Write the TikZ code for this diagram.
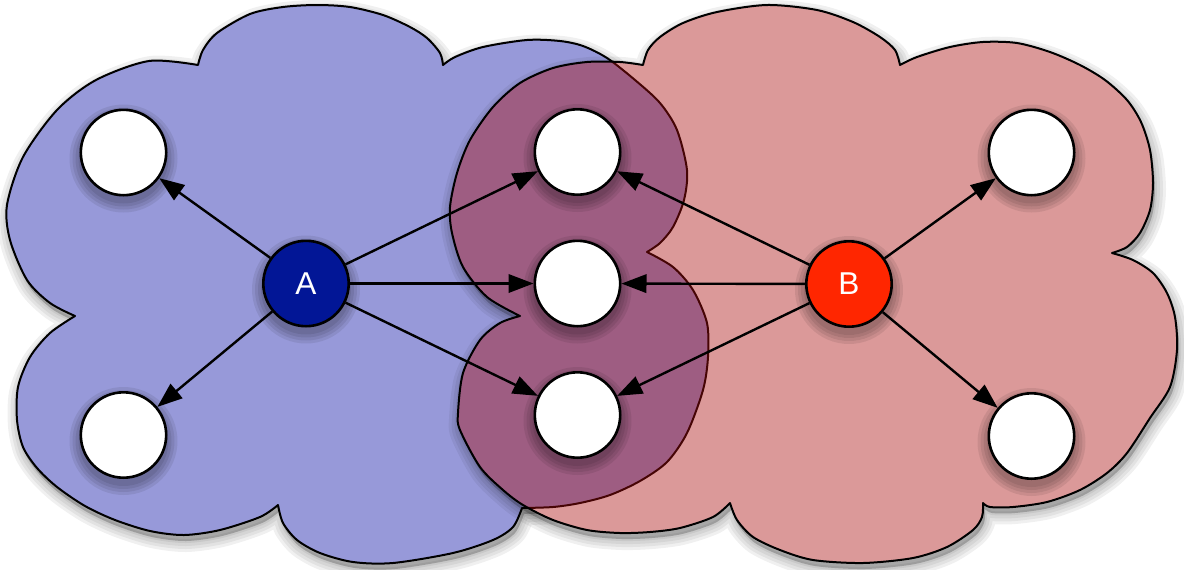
\documentclass[tikz,border=0pt]{standalone}
\usepackage{fontspec}
\setmainfont{Liberation Sans}
\usetikzlibrary{arrows.meta}
\definecolor{bluefill}{RGB}{151,153,217}
\definecolor{redtint}{RGB}{169,12,12}
\definecolor{anode}{RGB}{2,22,150}
\definecolor{bnode}{RGB}{255,38,0}
\def\bluecloud{plot coordinates {(75,316) (50,303) (27,280) (10,240) (7,205) (23,157) (57,110) (96,80) (149,61) (198,65)}
 -- plot coordinates {(198,65) (203,50) (217,33) (250,14) (283,7) (317,5) (350,7) (383,15) (410,27) (427,38) (440,53) (443,65)}
 -- plot coordinates {(443,65) (455,57) (483,47) (527,40) (560,41) (583,46) (607,58) (635,80) (660,103) (677,130) (687,170) (684,200) (673,227) (660,243) (647,252)}
 -- plot coordinates {(647,252) (673,267) (693,290) (707,323) (708,357) (703,390) (687,433) (667,462) (640,481) (610,495) (580,503) (553,507) (522,508)}
 -- plot coordinates {(522,508) (513,527) (493,540) (453,553) (393,563) (353,562) (320,553) (297,540) (283,523) (278,505)}
 -- plot coordinates {(278,505) (260,517) (220,530) (184,535) (150,531) (115,520) (85,506) (57,487) (37,468) (23,447) (17,420) (18,387) (30,357) (50,333) (75,316)}
 -- cycle}
\def\redcloud{plot coordinates {(520,316) (487,297) (463,267) (452,233) (450,207) (457,173) (470,140) (493,107) (520,83) (553,68) (587,62) (620,62) (643,65)}
 -- plot coordinates {(643,65) (648,50) (660,37) (683,23) (717,12) (767,5) (817,10) (853,22) (880,37) (895,50) (900,65)}
 -- plot coordinates {(900,65) (917,57) (950,47) (983,42) (1017,43) (1050,52) (1080,65) (1105,80) (1127,100) (1141,122) (1150,150) (1153,183) (1150,210) (1140,233) (1127,247) (1112,253)}
 -- plot coordinates {(1112,253) (1133,260) (1153,273) (1167,293) (1175,317) (1177,350) (1170,387) (1150,418) (1127,453) (1107,473) (1080,490) (1047,502) (1013,507) (990,507) (983,503)}
 -- plot coordinates {(983,503) (982,517) (973,530) (947,547) (913,558) (863,563) (813,560) (780,550) (753,537) (737,520) (730,503)}
 -- plot coordinates {(730,503) (713,517) (680,528) (650,532) (620,533) (587,530) (553,520) (523,505) (503,490) (480,467) (460,430) (458,413) (463,373) (480,340) (500,323) (520,316)}
 -- cycle}
\begin{document}
\begin{tikzpicture}[x=0.5pt,y=-0.5pt,
  cloudline/.style={draw=black, line width=1pt, line join=round, smooth},
  shadowlayer/.style={fill=black, fill opacity=0.06, draw=black, draw opacity=0.06, line join=round, smooth},
  leaf/.style={circle, draw=black, line width=1.3pt, fill=white, minimum size=42.7pt, inner sep=0pt},
  hub/.style={leaf, text=white, font=\fontsize{15.8}{18}\selectfont},
  link/.style={-{Triangle[length=12.5pt,width=9.2pt]}, line width=1.2pt, draw=black}]
\useasboundingbox (0,0) rectangle (1184,569);
% shadow of the blue cloud (kept outside the translucent red cloud)
\begin{scope}[even odd rule]
  \clip[smooth] (-20,-20) rectangle (1204,589) \redcloud;
  \foreach \w in {2,5,8,11} {
    \path[shadowlayer, line width=\w pt, shift={(2,6)}] \bluecloud;
  }
\end{scope}
% blue cloud
\fill[bluefill, smooth] \bluecloud;
\draw[cloudline] \bluecloud;
% shadow of the red cloud, falling on the paper and on the blue cloud
\begin{scope}[even odd rule]
  \clip[smooth] (-20,-20) rectangle (1204,589) \redcloud;
  \foreach \w in {2,5,8,11} {
    \path[shadowlayer, line width=\w pt, shift={(2,6)}] \redcloud;
  }
\end{scope}
% red cloud
\fill[redtint, fill opacity=0.42, smooth] \redcloud;
\draw[cloudline] \redcloud;
% node shadows
\foreach \x/\y in {123.5/152.5, 123.5/435, 577.5/152, 577.5/283.5, 577.5/415, 1031.5/152.5, 1031.5/436, 306/283.5, 849/284} {
  \foreach \r in {22.5,24,25.5,27} {
    \fill[black, fill opacity=0.08] (\x,\y+6) circle[radius=\r pt];
  }
}
% nodes
\node[leaf] (l1) at (123.5,152.5) {};
\node[leaf] (l2) at (123.5,435) {};
\node[leaf] (m1) at (577.5,152) {};
\node[leaf] (m2) at (577.5,283.5) {};
\node[leaf] (m3) at (577.5,415) {};
\node[leaf] (r1) at (1031.5,152.5) {};
\node[leaf] (r2) at (1031.5,436) {};
\node[hub, fill=anode] (A) at (306,283.5) {A};
\node[hub, fill=bnode] (B) at (849,284) {B};
% connectors
\draw[link] (A) -- (l1);
\draw[link] (A) -- (l2);
\draw[link] (A) -- (m1);
\draw[link] (A) -- (m2);
\draw[link] (A) -- (m3);
\draw[link] (B) -- (m1);
\draw[link] (B) -- (m2);
\draw[link] (B) -- (m3);
\draw[link] (B) -- (r1);
\draw[link] (B) -- (r2);
\end{tikzpicture}
\end{document}
